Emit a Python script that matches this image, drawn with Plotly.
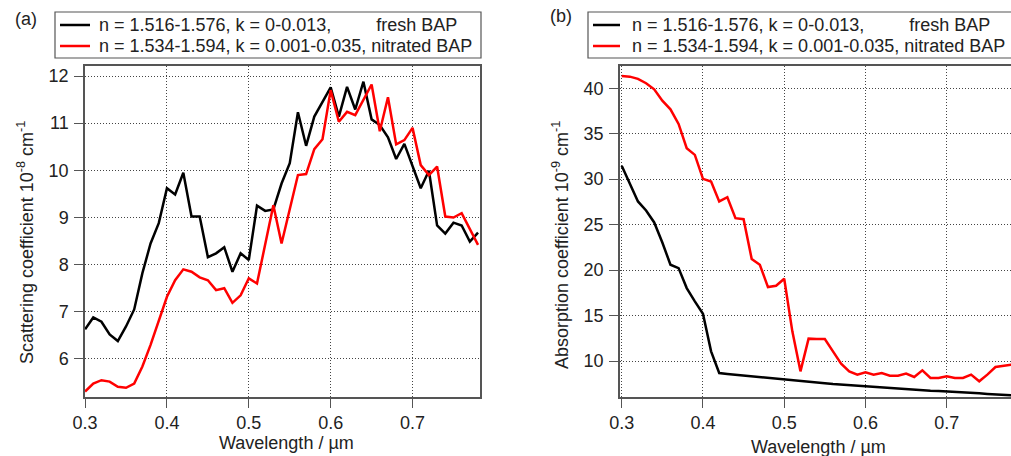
import plotly.graph_objects as go

W, H = 1011, 456

wavelength = [0.30, 0.31, 0.32, 0.33, 0.34, 0.35, 0.36, 0.37, 0.38, 0.39,
              0.40, 0.41, 0.42, 0.43, 0.44, 0.45, 0.46, 0.47, 0.48, 0.49,
              0.50, 0.51, 0.52, 0.53, 0.54, 0.55, 0.56, 0.57, 0.58, 0.59,
              0.60, 0.61, 0.62, 0.63, 0.64, 0.65, 0.66, 0.67, 0.68, 0.69,
              0.70, 0.71, 0.72, 0.73, 0.74, 0.75, 0.76, 0.77, 0.78]

scat_fresh = [6.63, 6.88, 6.79, 6.52, 6.38, 6.69, 7.05, 7.82, 8.45, 8.88,
              9.62, 9.49, 9.95, 9.02, 9.02, 8.16, 8.24, 8.37, 7.85, 8.24,
              8.10, 9.25, 9.14, 9.17, 9.72, 10.15, 11.23, 10.52, 11.14, 11.46,
              11.76, 11.14, 11.77, 11.29, 11.88, 11.08, 10.96, 10.70, 10.24, 10.56,
              10.09, 9.62, 9.99, 8.83, 8.66, 8.89, 8.83, 8.49, 8.68]

scat_nitrated = [5.31, 5.48, 5.55, 5.52, 5.41, 5.39, 5.48, 5.84, 6.30, 6.83,
                 7.32, 7.67, 7.90, 7.85, 7.73, 7.67, 7.46, 7.50, 7.19, 7.35,
                 7.71, 7.60, 8.42, 9.26, 8.45, 9.16, 9.90, 9.92, 10.45, 10.66,
                 11.70, 11.03, 11.24, 11.17, 11.51, 11.82, 10.83, 11.55, 10.55, 10.64,
                 10.90, 10.11, 9.90, 10.08, 9.02, 9.00, 9.09, 8.77, 8.42]

abs_fresh = [31.47, 29.5, 27.55, 26.56, 25.24, 23.04, 20.59, 20.22, 18.02, 16.56,
             15.2, 11.06, 8.68, 8.58, 8.5, 8.42, 8.35, 8.28, 8.2, 8.1,
             8.0, 7.92, 7.85, 7.76, 7.66, 7.56, 7.46, 7.40, 7.32, 7.24,
             7.15, 7.08, 7.02, 6.97, 6.92, 6.87, 6.82, 6.77, 6.73, 6.70,
             6.66, 6.60, 6.55, 6.50, 6.44, 6.38, 6.32, 6.27, 6.22]

abs_nitrated = [41.36, 41.28, 41.03, 40.55, 39.89, 38.64, 37.69, 36.08, 33.41, 32.67,
                30.04, 29.74, 27.55, 28.02, 25.71, 25.6, 21.21, 20.59, 18.13, 18.28,
                19.05, 13.26, 8.86, 12.46, 12.42, 12.42, 11.06, 9.71, 8.86, 8.5,
                8.75, 8.5, 8.68, 8.39, 8.39, 8.61, 8.24, 8.97, 8.13, 8.13,
                8.32, 8.13, 8.13, 8.5, 7.77, 8.5, 9.34, 9.49, 9.6]

x_ticks = [0.3, 0.4, 0.5, 0.6, 0.7]
x_ticklabels = ["0.3", "0.4", "0.5", "0.6", "0.7"]
ya_ticks = [6, 7, 8, 9, 10, 11, 12]
yb_ticks = [10, 15, 20, 25, 30, 35, 40]

NB = "\u00a0"
series_names = ["n = 1.516-1.576, k = 0-0.013," + NB * 9 + "fresh BAP",
                "n = 1.534-1.594, k = 0.001-0.035, nitrated BAP"]
series_colors = ["#000000", "#ff0000"]

FONT = "Liberation Sans, Arial, sans-serif"
TXT = "#222222"
FRAME = "#555555"
GRID = "#444444"

fig = go.Figure()

for ys, xa, ya in [(scat_fresh, "x", "y"), (abs_fresh, "x2", "y2")]:
    fig.add_trace(go.Scatter(x=wavelength, y=ys, mode="lines", name=series_names[0],
                             line=dict(color=series_colors[0], width=2.5),
                             xaxis=xa, yaxis=ya, showlegend=False))
for ys, xa, ya in [(scat_nitrated, "x", "y"), (abs_nitrated, "x2", "y2")]:
    fig.add_trace(go.Scatter(x=wavelength, y=ys, mode="lines", name=series_names[1],
                             line=dict(color=series_colors[1], width=2.5),
                             xaxis=xa, yaxis=ya, showlegend=False))


def px_x(p):
    return p / W


def px_y(p):
    return 1 - p / H


common_axis = dict(
    showline=True, linecolor=FRAME, linewidth=1.5, mirror=True,
    showgrid=True, gridcolor=GRID, griddash="1px,2px", gridwidth=1,
    ticks="outside", ticklen=9, tickwidth=1.3, tickcolor=FRAME,
    tickfont=dict(family=FONT, size=18, color=TXT),
    zeroline=False, automargin=False,
)

fig.update_layout(
    width=W, height=H,
    margin=dict(l=0, r=0, t=0, b=0, pad=0, autoexpand=False),
    paper_bgcolor="white", plot_bgcolor="white",
    font=dict(family=FONT, size=18, color=TXT),
    showlegend=False,
    xaxis=dict(domain=[px_x(85), px_x(480)], range=[0.2999, 0.7824], anchor="y",
               tickvals=x_ticks, ticktext=x_ticklabels, ticklabelstandoff=0, **common_axis),
    yaxis=dict(domain=[px_y(397), px_y(66)], range=[5.194, 12.212], anchor="x",
               tickvals=ya_ticks, ticklabelstandoff=2, **common_axis),
    xaxis2=dict(domain=[px_x(620), 1.0], range=[0.2979, 0.7791], anchor="y2",
                tickvals=x_ticks, ticktext=x_ticklabels, ticklabelstandoff=0, **common_axis),
    yaxis2=dict(domain=[px_y(397), px_y(66)], range=[6.04, 42.45], anchor="x2",
                tickvals=yb_ticks, ticklabelstandoff=2, **common_axis),
)

ann_font = dict(family=FONT, size=18, color=TXT)


def add_text(text, x, y, xanchor="center", angle=0):
    fig.add_annotation(text=text, x=px_x(x), y=px_y(y), xref="paper", yref="paper",
                       showarrow=False, xanchor=xanchor, yanchor="middle",
                       textangle=angle, font=ann_font, borderpad=0)


# legends (box, sample line, text) for both panels
legend_specs = [
    dict(box=(55, 481), line=(60, 90), text_x=98),
    dict(box=(588, 1040), line=(593, 620), text_x=631),
]
row_y = [25, 46]
for spec in legend_specs:
    bx0, bx1 = spec["box"]
    fig.add_shape(type="rect", xref="paper", yref="paper",
                  x0=px_x(bx0), x1=px_x(bx1), y0=px_y(58), y1=px_y(12),
                  line=dict(color=FRAME, width=1.2), fillcolor="white", layer="above")
    for name, color, ry in zip(series_names, series_colors, row_y):
        lx0, lx1 = spec["line"]
        fig.add_shape(type="line", xref="paper", yref="paper",
                      x0=px_x(lx0), x1=px_x(lx1), y0=px_y(ry), y1=px_y(ry),
                      line=dict(color=color, width=2.5), layer="above")
        add_text(name, spec["text_x"], ry, xanchor="left")

add_text("(a)", 26, 19)
add_text("(b)", 561, 16)
add_text("Wavelength / µm", 286, 443)
add_text("Wavelength / µm", 818, 447)
add_text("Scattering coefficient 10<sup>-8</sup> cm<sup>-1</sup>", 25, 243, angle=-90)
add_text("Absorption coefficient 10<sup>-9</sup> cm<sup>-1</sup>", 561, 245, angle=-90)

fig.write_html("out.html")
